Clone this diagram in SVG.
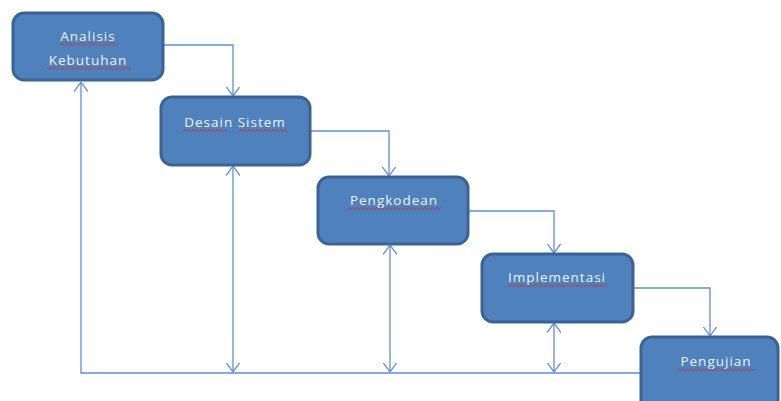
<svg xmlns="http://www.w3.org/2000/svg" width="781" height="401" viewBox="0 0 781 401">
<style>
.box{fill:#4f81bd;stroke:#3b6394;stroke-width:3}
.lbl{font-family:"Open Sans",sans-serif;font-size:13.5px;fill:#eef3fa;text-anchor:middle;letter-spacing:1px}
.ln{fill:none;stroke:#5f8fcf;stroke-width:1.3}
.sq{fill:url(#wave)}
</style>
<defs>
<marker id="ah" viewBox="0 0 10 14" refX="9.5" refY="7" markerWidth="10" markerHeight="14" markerUnits="userSpaceOnUse" orient="auto-start-reverse">
<path d="M0,0 L9.5,7 L0,14" fill="none" stroke="#5f8fcf" stroke-width="1.3"/>
</marker>
<pattern id="wave" width="4" height="3" patternUnits="userSpaceOnUse">
<path d="M0,1.5 Q1,-0.5 2,1.5 T4,1.5" fill="none" stroke="#e02020" stroke-width="1"/>
</pattern>
</defs>
<g id="connectors">
<path class="ln" d="M163,45 H233 V96" marker-end="url(#ah)"/>
<path class="ln" d="M310,131 H389 V176" marker-end="url(#ah)"/>
<path class="ln" d="M468,211 H554 V253" marker-end="url(#ah)"/>
<path class="ln" d="M633,288 H710 V336" marker-end="url(#ah)"/>
<path class="ln" d="M641,373 H81 V82" marker-end="url(#ah)"/>
<path class="ln" d="M233,166 V372" marker-start="url(#ah)" marker-end="url(#ah)"/>
<path class="ln" d="M390,245 V372" marker-start="url(#ah)" marker-end="url(#ah)"/>
<path class="ln" d="M554,323 V372" marker-start="url(#ah)" marker-end="url(#ah)"/>
</g>
<g id="analisis">
<rect class="box" x="13" y="13" width="150" height="67" rx="11"/>
<text class="lbl" x="88" y="41">Analisis</text>
<text class="lbl" x="88" y="65">Kebutuhan</text>
<rect class="sq" x="60" y="43" width="58" height="3"/>
<rect class="sq" x="47" y="67" width="84" height="3"/>
</g>
<g id="desain">
<rect class="box" x="161" y="97" width="149" height="68" rx="11"/>
<text class="lbl" x="235" y="127">Desain Sistem</text>
<rect class="sq" x="183" y="129" width="44" height="3"/>
<rect class="sq" x="239" y="129" width="48" height="3"/>
</g>
<g id="pengkodean">
<rect class="box" x="318" y="177" width="150" height="67" rx="11"/>
<text class="lbl" x="394" y="205">Pengkodean</text>
<rect class="sq" x="347" y="207" width="94" height="3"/>
</g>
<g id="implementasi">
<rect class="box" x="482" y="254" width="151" height="68" rx="11"/>
<text class="lbl" x="557" y="282">Implementasi</text>
<rect class="sq" x="506" y="284" width="102" height="3"/>
</g>
<g id="pengujian">
<rect class="box" x="641" y="337" width="137" height="75" rx="11"/>
<text class="lbl" x="716" y="366">Pengujian</text>
<rect class="sq" x="678" y="368" width="76" height="3"/>
</g>
</svg>
